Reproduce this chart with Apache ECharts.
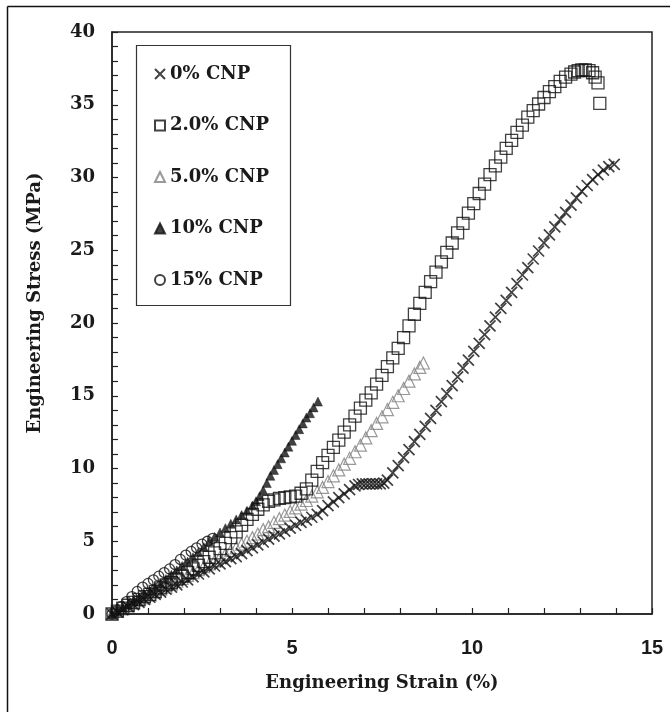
<!DOCTYPE html>
<html><head><meta charset="utf-8">
<script src="https://cdn.jsdelivr.net/npm/echarts@6/dist/echarts.min.js"></script>
<style>html,body{margin:0;padding:0;background:#fff}#c{width:670px;height:712px}</style>
</head><body><div id="c"></div>
<script>
// ---- data (strain %, stress MPa) ----
const seriesNames = ['0% CNP', '2.0% CNP', '5.0% CNP', '10% CNP', '15% CNP'];

const strain0 = [0,0.15,0.3,0.45,0.6,0.75,0.9,1.05,1.2,1.35,1.5,1.65,1.8,1.95,2.1,2.25,2.4,2.55,2.7,2.85,3.0,3.15,3.3,3.45,3.6,3.75,3.9,4.05,4.2,4.35,4.5,4.65,4.8,4.95,5.1,5.25,5.4,5.55,5.7,5.85,6.0,6.15,6.3,6.45,6.6,6.75,
  6.85,6.95,7.05,7.15,7.25,7.35,7.45,7.55,7.65,
  7.8,7.95,8.1,8.25,8.4,8.55,8.7,8.85,9.0,9.15,9.3,9.45,9.6,9.75,9.9,10.05,10.2,10.35,10.5,10.65,10.8,10.95,11.1,11.25,11.4,11.55,11.7,11.85,12.0,12.15,12.3,12.45,12.6,12.75,12.9,13.05,13.2,13.35,13.5,13.65,13.8,13.95];
const stress0 = [0,0.15,0.3,0.5,0.65,0.8,1.0,1.15,1.35,1.5,1.7,1.85,2.0,2.2,2.35,2.55,2.75,2.9,3.1,3.3,3.45,3.6,3.8,3.95,4.15,4.35,4.55,4.75,4.95,5.15,5.35,5.5,5.7,5.9,6.1,6.3,6.45,6.65,6.85,7.1,7.45,7.7,8.0,8.25,8.55,8.8,
  8.9,8.95,8.95,8.95,8.95,8.95,8.95,9.0,9.2,
  9.7,10.2,10.75,11.3,11.85,12.35,12.9,13.45,14.0,14.6,15.15,15.7,16.3,16.9,17.45,18.05,18.6,19.2,19.8,20.4,21.0,21.55,22.1,22.7,23.3,23.8,24.4,24.95,25.5,26.05,26.6,27.1,27.6,28.1,28.6,29.05,29.45,29.85,30.2,30.5,30.75,30.9];

const strain2 = [0,0.15,0.3,0.45,0.6,0.75,0.9,1.05,1.2,1.35,
  1.5,1.65,1.8,1.95,2.1,2.25,2.4,2.55,2.7,2.85,
  3.0,3.15,3.3,3.45,3.6,3.75,3.9,4.05,4.2,4.35,
  4.5,4.65,4.8,4.95,5.1,5.25,5.4,5.55,5.7,5.85,
  6.0,6.15,6.3,6.45,6.6,6.75,6.9,7.05,7.2,7.35,
  7.5,7.65,7.8,7.95,8.1,8.25,8.4,8.55,8.7,8.85,
  9.0,9.15,9.3,9.45,9.6,9.75,9.9,10.05,10.2,10.35,
  10.5,10.65,10.8,10.95,11.1,11.25,11.4,11.55,11.7,11.85,
  12.0,12.15,12.3,12.45,12.6,12.75,12.85,12.95,13.05,13.15,
  13.25,13.35,13.42,13.5,13.55];
const stress2 = [0,0.2,0.4,0.6,0.8,1.0,1.2,1.35,1.55,1.8,
  2.0,2.15,2.4,2.6,2.85,3.1,3.35,3.6,3.9,4.2,
  4.5,4.85,5.25,5.65,6.1,6.5,6.85,7.2,7.5,7.75,
  7.85,7.95,8.0,8.05,8.1,8.3,8.6,9.2,9.8,10.4,
  10.9,11.45,11.95,12.5,13.0,13.6,14.15,14.7,15.2,15.8,
  16.4,17.0,17.6,18.25,19.0,19.8,20.6,21.35,22.1,22.85,
  23.5,24.2,24.85,25.5,26.2,26.85,27.55,28.2,28.9,29.55,
  30.2,30.8,31.4,32.0,32.55,33.1,33.6,34.15,34.6,35.05,
  35.5,35.9,36.25,36.6,36.9,37.1,37.25,37.35,37.4,37.4,
  37.35,37.2,36.9,36.5,35.1];

const strain5 = [0,0.15,0.3,0.45,0.6,0.75,0.9,1.05,1.2,1.35,
  1.5,1.65,1.8,1.95,2.1,2.25,2.4,2.55,2.7,2.85,
  3.0,3.15,3.3,3.45,3.6,3.75,3.9,4.05,4.2,4.35,
  4.5,4.65,4.8,4.95,5.1,5.25,5.4,5.55,5.7,5.85,
  6.0,6.15,6.3,6.45,6.6,6.75,6.9,7.05,7.2,7.35,
  7.5,7.65,7.8,7.95,8.1,8.25,8.4,8.55,8.65];
const stress5 = [0,0.2,0.35,0.55,0.75,0.95,1.1,1.3,1.5,1.7,
  1.85,2.05,2.25,2.45,2.65,2.85,3.05,3.25,3.45,3.65,
  3.9,4.1,4.35,4.55,4.8,5.0,5.25,5.5,5.8,6.0,
  6.3,6.55,6.8,7.05,7.3,7.55,7.8,8.1,8.4,8.7,
  9.1,9.5,9.9,10.3,10.7,11.15,11.6,12.1,12.6,13.1,
  13.55,14.05,14.55,15.0,15.5,16.0,16.5,16.95,17.25];

const strain10 = [0,0.15,0.3,0.45,0.6,0.75,0.9,1.05,1.2,1.35,
  1.5,1.65,1.8,1.95,2.1,2.25,2.4,2.55,2.7,2.85,
  3.0,3.15,3.3,3.45,3.6,3.75,3.9,4.0,4.1,4.2,
  4.3,4.4,4.5,4.6,4.7,4.8,4.9,5.0,5.1,5.2,
  5.3,5.4,5.5,5.6,5.72];
const stress10 = [0,0.2,0.45,0.65,0.9,1.1,1.35,1.6,1.85,2.1,
  2.4,2.7,3.0,3.3,3.6,3.9,4.25,4.6,5.0,5.3,
  5.6,5.9,6.2,6.5,6.8,7.1,7.45,7.75,8.1,8.5,
  9.0,9.5,9.9,10.3,10.7,11.1,11.5,11.9,12.3,12.7,
  13.1,13.5,13.8,14.2,14.6];

const strain15 = [0,0.1,0.25,0.4,0.55,0.7,0.85,1.0,1.15,1.3,1.45,1.6,1.75,1.9,2.05,2.2,2.35,2.5,2.65,2.8];
const stress15 = [0,0.2,0.5,0.85,1.2,1.55,1.85,2.1,2.35,2.6,2.85,3.1,3.4,3.75,4.05,4.3,4.55,4.8,5.0,5.2];

const xTicks = [0, 5, 10, 15];
const yTicks = [0, 5, 10, 15, 20, 25, 30, 35, 40];

function pairs(xs, ys) { return xs.map((x, i) => [x, ys[i]]); }

const serifBold = { fontFamily: 'DejaVu Serif', fontWeight: 'bold', color: '#1a1a1a' };
const crossPath = 'path://M0,0L10,10M10,0L0,10';

const chart = echarts.init(document.getElementById('c'), null, { renderer: 'canvas' });
chart.setOption({
  animation: false,
  backgroundColor: '#fff',
  grid: { left: 112, right: 18, top: 32, bottom: 98, show: true, borderColor: '#222', borderWidth: 1.5, backgroundColor: 'transparent' },
  xAxis: {
    type: 'value', min: 0, max: 15, interval: 5,
    name: 'Engineering Strain (%)', nameLocation: 'middle', nameGap: 60,
    nameTextStyle: Object.assign({ fontSize: 18 }, serifBold),
    axisLine: { lineStyle: { color: '#222', width: 1.5 } },
    axisTick: { inside: true, length: 6, lineStyle: { color: '#222', width: 1.2 } },
    minorTick: { show: true, splitNumber: 5, length: 6, lineStyle: { color: '#222', width: 1.2 } },
    axisLabel: { margin: 24, fontSize: 20, fontFamily: 'Liberation Sans', fontWeight: 'bold', color: '#1a1a1a',
      formatter: v => xTicks.includes(v) ? String(v) : '' },
    splitLine: { show: false }
  },
  yAxis: {
    type: 'value', min: 0, max: 40, interval: 5,
    name: 'Engineering Stress (MPa)', nameLocation: 'middle', nameGap: 68,
    nameTextStyle: Object.assign({ fontSize: 18, padding: [0, 0, 0, 40] }, serifBold),
    axisLine: { lineStyle: { color: '#222', width: 1.5 } },
    axisTick: { inside: true, length: 6, lineStyle: { color: '#222', width: 1.2 } },
    minorTick: { show: true, splitNumber: 5, length: 6, lineStyle: { color: '#222', width: 1.2 } },
    axisLabel: Object.assign({ margin: 17, fontSize: 18, formatter: v => yTicks.includes(v) ? String(v) : '' }, serifBold),
    splitLine: { show: false }
  },
  legend: {
    orient: 'vertical', left: 154, top: 65, padding: 0,
    itemWidth: 10, itemHeight: 10, itemGap: 33.5,
    textStyle: Object.assign({ fontSize: 18 }, serifBold),
    data: seriesNames
  },
  graphic: [
    { type: 'rect', shape: { x: 136.5, y: 45.5, width: 154, height: 260 }, style: { fill: 'none', stroke: '#333', lineWidth: 1.2 }, z: 1 },
    { type: 'line', shape: { x1: 7.5, y1: 6.5, x2: 670, y2: 6.5 }, style: { stroke: '#111', lineWidth: 1.5 } },
    { type: 'line', shape: { x1: 7.5, y1: 6.5, x2: 7.5, y2: 712 }, style: { stroke: '#111', lineWidth: 1.5 } }
  ],
  series: [
    { name: seriesNames[0], type: 'scatter', data: pairs(strain0, stress0), symbol: crossPath, symbolSize: 11,
      itemStyle: { color: 'rgba(0,0,0,0)', borderColor: '#111', borderWidth: 1.7 }, z: 3 },
    { name: seriesNames[1], type: 'scatter', data: pairs(strain2, stress2), symbol: 'rect', symbolSize: 12,
      itemStyle: { color: 'rgba(0,0,0,0)', borderColor: '#111', borderWidth: 1.3 }, z: 4 },
    { name: seriesNames[2], type: 'scatter', data: pairs(strain5, stress5), symbol: 'triangle', symbolSize: 12,
      itemStyle: { color: 'rgba(0,0,0,0)', borderColor: '#808080', borderWidth: 1.2 }, z: 2 },
    { name: seriesNames[3], type: 'scatter', data: pairs(strain10, stress10), symbol: 'triangle', symbolSize: 9,
      itemStyle: { color: '#111', borderColor: '#111', borderWidth: 0.5 }, z: 5 },
    { name: seriesNames[4], type: 'scatter', data: pairs(strain15, stress15), symbol: 'circle', symbolSize: 10,
      itemStyle: { color: 'rgba(0,0,0,0)', borderColor: '#111', borderWidth: 1.3 }, z: 6 }
  ]
});
</script></body></html>
